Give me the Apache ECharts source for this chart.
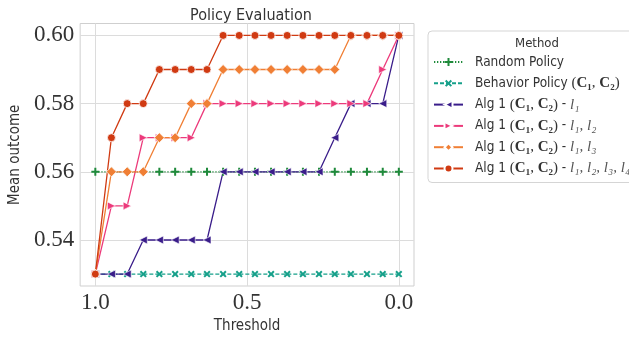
<!DOCTYPE html>
<html><head><meta charset="utf-8">
<script src="https://cdn.jsdelivr.net/npm/echarts@6/dist/echarts.min.js"></script>
<style>html,body{margin:0;padding:0;background:#fff}#c{width:629px;height:339px}</style>
</head><body><div id="c"></div>
<script>
// ---- data ----
const thresholds = [1.0, 0.947, 0.895, 0.842, 0.789, 0.737, 0.684, 0.632, 0.579, 0.526,
                    0.474, 0.421, 0.368, 0.316, 0.263, 0.211, 0.158, 0.105, 0.053, 0.0];
const randomPolicy   = [0.56,0.56,0.56,0.56,0.56,0.56,0.56,0.56,0.56,0.56,0.56,0.56,0.56,0.56,0.56,0.56,0.56,0.56,0.56,0.56];
const behaviorPolicy = [0.53,0.53,0.53,0.53,0.53,0.53,0.53,0.53,0.53,0.53,0.53,0.53,0.53,0.53,0.53,0.53,0.53,0.53,0.53,0.53];
const algL1          = [0.53,0.53,0.53,0.54,0.54,0.54,0.54,0.54,0.56,0.56,0.56,0.56,0.56,0.56,0.56,0.57,0.58,0.58,0.58,0.60];
const algL1L2        = [0.53,0.55,0.55,0.57,0.57,0.57,0.57,0.58,0.58,0.58,0.58,0.58,0.58,0.58,0.58,0.58,0.58,0.58,0.59,0.60];
const algL1L3        = [0.53,0.56,0.56,0.56,0.57,0.57,0.58,0.58,0.59,0.59,0.59,0.59,0.59,0.59,0.59,0.59,0.60,0.60,0.60,0.60];
const algAll         = [0.53,0.57,0.58,0.58,0.59,0.59,0.59,0.59,0.60,0.60,0.60,0.60,0.60,0.60,0.60,0.60,0.60,0.60,0.60,0.60];
const seriesNames = ['Random Policy','Behavior Policy (C1, C2)','Alg 1 (C1, C2) - l1','Alg 1 (C1, C2) - l1, l2','Alg 1 (C1, C2) - l1, l3','Alg 1 (C1, C2) - l1, l2, l3, l4'];
const xTickValues = [1.0, 0.5, 0.0];
const xTickLabels = ['1.0','0.5','0.0'];
const yTickValues = [0.54, 0.56, 0.58, 0.60];
const yTickLabels = ['0.54','0.56','0.58','0.60'];

// ---- styling ----
const SANS = "'DejaVu Sans Condensed','Liberation Sans Narrow',Roboto,sans-serif";
const SERIF = "'Liberation Serif','DejaVu Serif',serif";
const TXT = '#333333';
const PLUS = 'path://M3,0H5V3H8V5H5V8H3V5H0V3H3Z';

const legendRich = {
  sp:{width:7},
  t:{fontFamily:SANS, fontSize:13.5, color:TXT, lineHeight:16},
  m:{fontFamily:SERIF, fontSize:15, color:TXT, lineHeight:16},
  b:{fontFamily:SERIF, fontSize:15, fontWeight:'bold', color:TXT, lineHeight:16},
  i:{fontFamily:SERIF, fontSize:15, fontStyle:'italic', color:'#555', lineHeight:16}
};
const C12 = '{m|(}{b|C₁}{m|, }{b|C₂}{m|)}';
const legendText = {
  'Random Policy':'{sp|}{t|Random Policy}',
  'Behavior Policy (C1, C2)':'{sp|}{t|Behavior Policy }'+C12,
  'Alg 1 (C1, C2) - l1':'{sp|}{t|Alg 1 }'+C12+'{t| - }{i|l₁}',
  'Alg 1 (C1, C2) - l1, l2':'{sp|}{t|Alg 1 }'+C12+'{t| - }{i|l₁, l₂}',
  'Alg 1 (C1, C2) - l1, l3':'{sp|}{t|Alg 1 }'+C12+'{t| - }{i|l₁, l₃}',
  'Alg 1 (C1, C2) - l1, l2, l3, l4':'{sp|}{t|Alg 1 }'+C12+'{t| - }{i|l₁, l₂, l₃, l₄}'
};

function pairs(vals){ return thresholds.map((t,i)=>[t, vals[i]]); }

const styles = [
  {data:randomPolicy,   color:'#1f8a3b', dash:[1.3,1.7], symbol:PLUS, size:8, rot:0, edge:0},
  {data:behaviorPolicy, color:'#16a08a', dash:[4,2],     symbol:PLUS, size:8, rot:45, edge:0},
  {data:algL1,          color:'#3a1d8a', dash:'solid',   symbol:'triangle', size:8, rot:90, edge:0.6},
  {data:algL1L2,        color:'#ec3a7b', dash:'solid',   symbol:'triangle', size:8, rot:-90, edge:0.6},
  {data:algL1L3,        color:'#f07f35', dash:'solid',   symbol:'diamond', size:10, rot:0, edge:0.8},
  {data:algAll,         color:'#d03a12', dash:'solid',   symbol:'circle', size:8, rot:0, edge:0.8}
];

const series = styles.map((s,k)=>({
  name: seriesNames[k],
  type:'line',
  data: pairs(s.data),
  symbol: s.symbol,
  symbolSize: s.size,
  symbolRotate: s.rot,
  showSymbol:true,
  animation:false,
  lineStyle:{color:s.color, width:1.3, type:s.dash},
  itemStyle:{color:s.color, borderColor:'#fff', borderWidth:s.edge},
  emphasis:{disabled:true}
}));

const chart = echarts.init(document.getElementById('c'), null, {renderer:'canvas'});
chart.setOption({
  backgroundColor:'#fff',
  animation:false,
  title:[
    {text:'Policy Evaluation', left:246, top:3, textAlign:'center',
     textStyle:{fontFamily:SANS, fontSize:16, fontWeight:'normal', color:TXT}},
    {text:'Method', left:532, top:32, textAlign:'center',
     textStyle:{fontFamily:SANS, fontSize:13, fontWeight:'normal', color:TXT}}
  ],
  grid:{left:78, right:215, top:23.5, bottom:49.5, show:true, borderColor:'#cfcfcf', borderWidth:1, backgroundColor:'transparent'},
  xAxis:{
    type:'value', inverse:true, min:-0.05, max:1.05,
    axisLine:{show:false}, axisTick:{show:false, customValues:xTickValues},
    axisLabel:{customValues:xTickValues, formatter:(v)=>xTickLabels[xTickValues.indexOf(v)] ?? v.toFixed(1),
      fontFamily:SERIF, fontSize:23, color:TXT, margin:5},
    splitLine:{show:true, lineStyle:{color:'#dcdcdc', width:1}},
    name:'Threshold', nameLocation:'middle', nameGap:33,
    nameTextStyle:{fontFamily:SANS, fontSize:15, color:TXT}
  },
  yAxis:{
    type:'value', min:0.5265, max:0.6035,
    axisLine:{show:false}, axisTick:{show:false, customValues:yTickValues},
    axisLabel:{customValues:yTickValues, formatter:(v)=>{const j=yTickValues.findIndex(x=>Math.abs(x-v)<1e-9); return j>=0?yTickLabels[j]:v.toFixed(2);},
      fontFamily:SERIF, fontSize:23, color:TXT, margin:6},
    splitLine:{show:true, lineStyle:{color:'#dcdcdc', width:1}},
    name:'Mean outcome', nameLocation:'middle', nameGap:44,
    nameTextStyle:{fontFamily:SANS, fontSize:15, color:TXT}
  },
  legend:{
    orient:'vertical', left:428, top:31,
    padding:[23,6,6,5],
    borderColor:'#d5d5d5', borderWidth:1, borderRadius:4, backgroundColor:'#fff',
    itemWidth:29, itemHeight:10, itemGap:5.3,
    selectedMode:false,
    data: seriesNames,
    formatter:(n)=>legendText[n],
    textStyle:{rich:legendRich, color:TXT, lineHeight:16}
  },
  series
});
</script>
</body></html>
